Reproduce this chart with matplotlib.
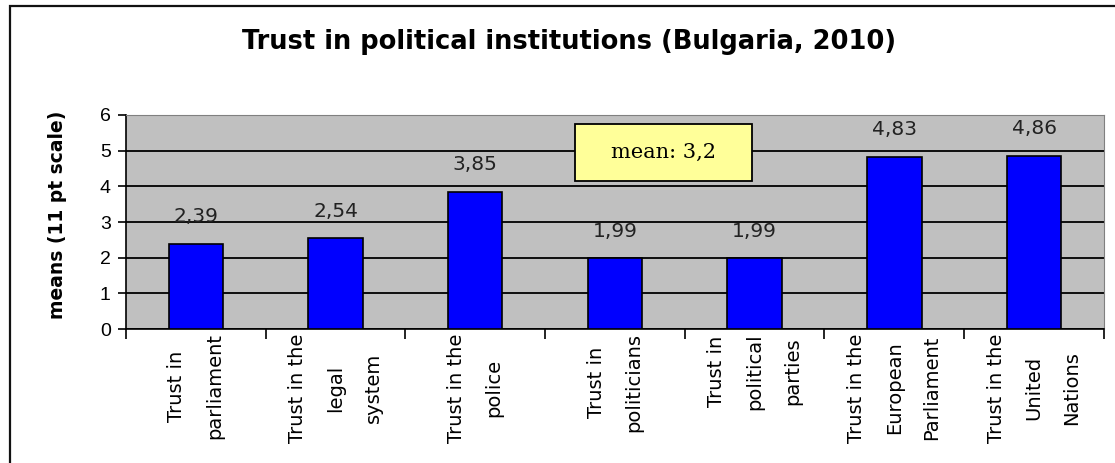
import matplotlib
matplotlib.use("Agg")
import matplotlib.pyplot as plt
from matplotlib.patches import Rectangle

categories = [
    "Trust in\nparliament",
    "Trust in the\nlegal\nsystem",
    "Trust in the\npolice",
    "Trust in\npoliticians",
    "Trust in\npolitical\nparties",
    "Trust in the\nEuropean\nParliament",
    "Trust in the\nUnited\nNations",
]
means = [2.39, 2.54, 3.85, 1.99, 1.99, 4.83, 4.86]
value_labels = ["2,39", "2,54", "3,85", "1,99", "1,99", "4,83", "4,86"]
yticks = [0, 1, 2, 3, 4, 5, 6]
mean_text = "mean: 3,2"

plt.rcParams["font.family"] = ["Liberation Sans", "DejaVu Sans"]

fig = plt.figure(figsize=(11.15, 4.63), dpi=100)
ax = fig.add_axes([0.113, 0.289, 0.877, 0.463])

# outer chart frame (runs off the right and bottom of the picture)
fig.patches.append(Rectangle((0.009, -0.1), 1.2, 1.087, transform=fig.transFigure,
                             fill=False, edgecolor="#111111", linewidth=1.6))

x = list(range(len(categories)))
ax.set_facecolor("#C0C0C0")
ax.bar(x, means, width=0.39, color="#0000FF", edgecolor="black", linewidth=1.2, zorder=3)
for xi, v, lab in zip(x, means, value_labels):
    ax.annotate(lab, (xi, v), xytext=(0, 19.5), textcoords="offset points",
                ha="center", va="center", fontsize=14.5, color="#222222",
                family="DejaVu Sans", zorder=4)

ax.set_xlim(-0.5, len(categories) - 0.5)
ax.set_ylim(0, 6)
ax.set_yticks(yticks)
ax.set_yticklabels([str(t) for t in yticks], fontsize=14)
ax.yaxis.grid(True, color="black", linewidth=1.3, zorder=1)
ax.set_axisbelow(True)

ax.set_xticks([i - 0.5 for i in range(len(categories) + 1)])
ax.set_xticklabels([])
ax.tick_params(axis="x", direction="out", length=7, width=1.2)
ax.tick_params(axis="y", direction="out", length=6, width=1.2, pad=5)
for xi, lab in zip(x, categories):
    ax.annotate(lab, (xi, 0), xycoords=("data", "axes fraction"),
                xytext=(0, -3), textcoords="offset points",
                rotation=90, ha="center", va="top", multialignment="center",
                fontsize=14, family="DejaVu Sans", linespacing=2.25)

for s in ["top", "right"]:
    ax.spines[s].set_color("#808080")
for s in ["left", "bottom"]:
    ax.spines[s].set_color("black")
    ax.spines[s].set_linewidth(1.2)

ax.set_ylabel("means (11 pt scale)", fontsize=13.5, fontweight="bold",
              family="DejaVu Sans")
ax.yaxis.set_label_coords(-0.060, 0.533)

fig.text(0.51, 0.909, "Trust in political institutions (Bulgaria, 2010)",
         ha="center", va="center", fontsize=18.5, fontweight="bold", family="DejaVu Sans")

# yellow "mean" note
ax.add_patch(Rectangle((2.716, 4.157), 1.268, 1.573, facecolor="#FFFF99",
                       edgecolor="black", linewidth=1.3, zorder=5))
ax.text(3.35, 4.94, mean_text, ha="center", va="center", fontsize=15,
        family="DejaVu Serif", zorder=6)

fig.savefig("out.png", dpi=100)
